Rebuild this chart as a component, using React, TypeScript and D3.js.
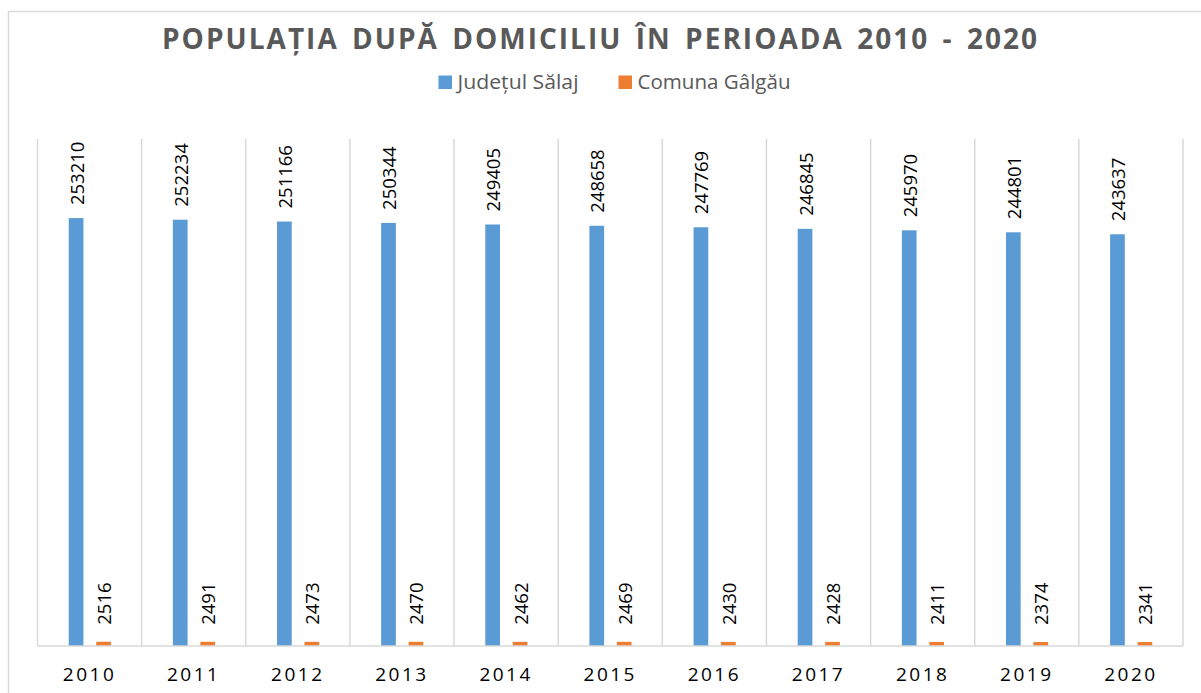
import React from 'react'
import * as d3 from 'd3'

const years = ['2010', '2011', '2012', '2013', '2014', '2015', '2016', '2017', '2018', '2019', '2020']
const judetSalaj = [253210, 252234, 251166, 250344, 249405, 248658, 247769, 246845, 245970, 244801, 243637]
const comunaGalgau = [2516, 2491, 2473, 2470, 2462, 2469, 2430, 2428, 2411, 2374, 2341]
const seriesNames = ['Județul Sălaj', 'Comuna Gâlgău']
const seriesColors = ['#5B9BD5', '#ED7D31']
const title = 'POPULAȚIA DUPĂ DOMICILIU ÎN PERIOADA 2010 - 2020'

const W = 1201
const H = 693
const plot = { left: 37.5, right: 1183, top: 139, bottom: 646 }
const font = '"Open Sans", "Noto Sans", sans-serif'

export default function App() {
  const x = d3.scaleBand<string>().domain(years).range([plot.left, plot.right])
  const bw = x.bandwidth()
  const inner = d3.scaleBand<string>()
    .domain(seriesNames)
    .range([bw * 0.3, bw * 0.705])
    .paddingInner(0.465)
  const y = d3.scaleLinear().domain([0, 300000]).range([plot.bottom, plot.top])

  const series = [judetSalaj, comunaGalgau]
  const labelGap = [13, 17]

  // legend layout
  const legend = [
    { sq: 438.5, tx: 457.5, len: 121 },
    { sq: 618.5, tx: 637.5, len: 153 },
  ]

  return (
    <svg width={W} height={H} style={{ position: 'absolute', left: 0, top: 0 }} fontFamily={font}>
      <rect x={0} y={0} width={W} height={H} fill="#fff" />
      <rect x={8.5} y={11.5} width={W + 50} height={H + 50} fill="#fff" stroke="#D9D9D9" strokeWidth={1.5} />

      <text x={599.5} y={48.5} textAnchor="middle" fontSize={28} fontWeight="bold" fill="#595959"
        wordSpacing={4} textLength={875} lengthAdjust="spacing">{title}</text>

      {legend.map((l, i) => (
        <g key={seriesNames[i]}>
          <rect x={l.sq} y={75.5} width={13.5} height={13.5} fill={seriesColors[i]} />
          <text x={l.tx} y={88.5} fontSize={20} fill="#595959" textLength={l.len} lengthAdjust="spacingAndGlyphs">
            {seriesNames[i]}
          </text>
        </g>
      ))}

      {/* vertical gridlines between categories */}
      {years.map((yr) => (
        <line key={'g' + yr} x1={x(yr)!} x2={x(yr)!} y1={plot.top} y2={plot.bottom} stroke="#D9D9D9" strokeWidth={1.5} />
      ))}
      <line x1={plot.right} x2={plot.right} y1={plot.top} y2={plot.bottom} stroke="#D9D9D9" strokeWidth={1.5} />

      {series.map((vals, si) => (
        <g key={seriesNames[si]}>
          {vals.map((v, i) => {
            const bx = x(years[i])! + inner(seriesNames[si])!
            const cx = bx + inner.bandwidth() / 2
            return (
              <g key={i}>
                <rect x={bx} y={y(v)} width={inner.bandwidth()} height={plot.bottom - y(v)} fill={seriesColors[si]} />
                <text transform={`translate(${cx},${y(v) - labelGap[si]}) rotate(-90)`}
                  dominantBaseline="central" fontSize={18.5} fill="#000">{v}</text>
              </g>
            )
          })}
        </g>
      ))}

      <line x1={plot.left} x2={plot.right} y1={plot.bottom} y2={plot.bottom} stroke="#D9D9D9" strokeWidth={1.5} />

      {years.map((yr) => (
        <text key={'t' + yr} x={x(yr)! + bw / 2} y={680.5} textAnchor="middle" fontSize={19}
          letterSpacing={2.5} fill="#000">{yr}</text>
      ))}
    </svg>
  )
}
